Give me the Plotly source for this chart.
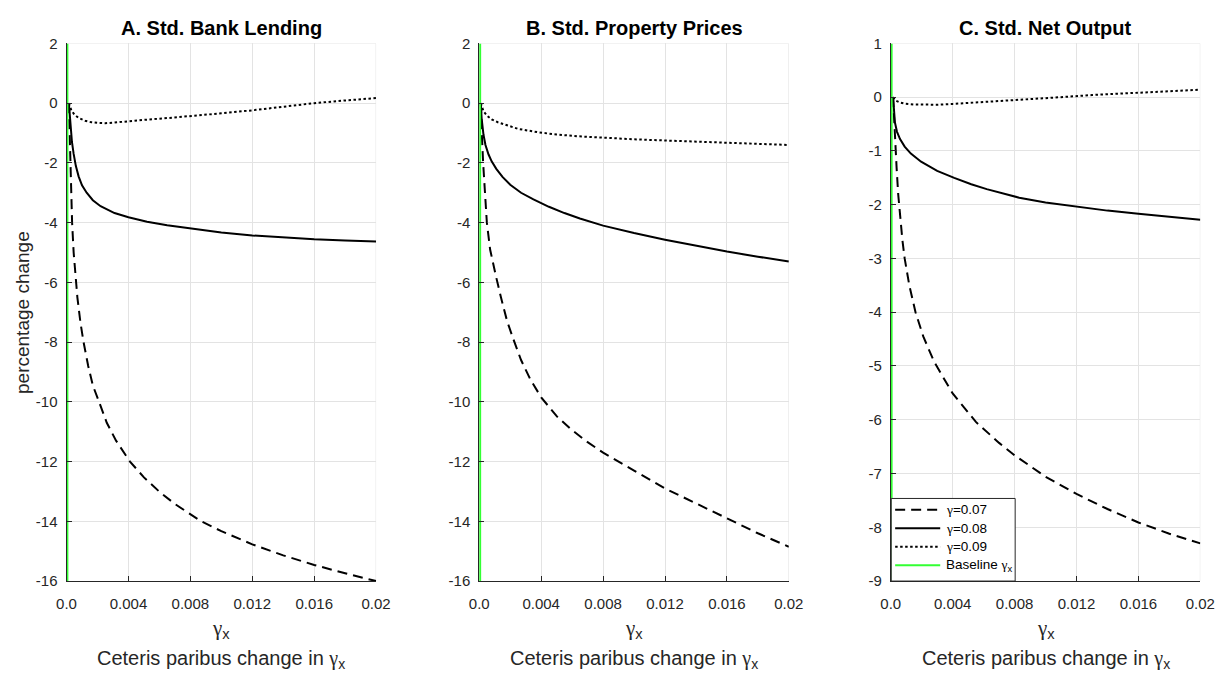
import plotly.graph_objects as go

# Baseline value of gamma_x (vertical reference line)
baseline_gx = 0.00005

# Panel A: Std. Bank Lending (percentage change)
a_x_07 = [0.00015, 0.0002, 0.00025, 0.0003, 0.00036, 0.00046, 0.00057, 0.0007, 0.0009, 0.0011, 0.0014, 0.0017,
          0.0021, 0.0026, 0.0032, 0.0041, 0.005, 0.006, 0.007, 0.0087, 0.010, 0.012, 0.014, 0.016, 0.018, 0.020]
a_y_07 = [0.0, -1.1, -2.1, -3.1, -4.0, -5.0, -5.75, -6.5, -7.35, -8.0, -8.8, -9.45,
          -10.0, -10.7, -11.3, -12.0, -12.53, -13.01, -13.42, -14.0, -14.33, -14.77, -15.14, -15.46, -15.74, -16.0]
a_x_08 = [0.00015, 0.00025, 0.00035, 0.00046, 0.0006, 0.00078, 0.001, 0.0013, 0.0017, 0.0022, 0.0031,
          0.004, 0.0052, 0.0065, 0.008, 0.010, 0.012, 0.014, 0.016, 0.018, 0.020]
a_y_08 = [0.0, -0.8, -1.3, -1.7, -2.1, -2.45, -2.75, -3.0, -3.25, -3.45, -3.68,
          -3.82, -3.97, -4.09, -4.2, -4.33, -4.43, -4.5, -4.56, -4.6, -4.63]
a_x_09 = [0.00015, 0.0003, 0.0005, 0.0008, 0.0012, 0.0016, 0.002, 0.0025, 0.0031, 0.004, 0.005,
          0.0065, 0.008, 0.010, 0.012, 0.014, 0.016, 0.018, 0.020]
a_y_09 = [0.0, -0.22, -0.38, -0.5, -0.59, -0.64, -0.66, -0.67, -0.65, -0.6, -0.56,
          -0.5, -0.44, -0.34, -0.24, -0.12, 0.0, 0.09, 0.17]

# Panel B: Std. Property Prices
b_x_07 = [0.0001, 0.00013, 0.00017, 0.00025, 0.00035, 0.00049, 0.0007, 0.0009, 0.00108, 0.0014, 0.0018, 0.0022,
          0.0027, 0.0033, 0.004, 0.005, 0.006, 0.007, 0.008, 0.010, 0.012, 0.014, 0.016, 0.018, 0.020]
b_y_07 = [0.0, -0.6, -1.1, -2.0, -3.0, -4.0, -4.9, -5.4, -5.8, -6.5, -7.3, -7.9,
          -8.6, -9.25, -9.85, -10.48, -10.95, -11.35, -11.7, -12.3, -12.9, -13.4, -13.9, -14.4, -14.85]
b_x_08 = [0.0001, 0.00015, 0.00027, 0.0004, 0.0006, 0.0008, 0.0011, 0.0015, 0.002, 0.0027, 0.0035, 0.0045,
          0.0055, 0.0065, 0.008, 0.010, 0.012, 0.014, 0.016, 0.018, 0.020]
b_y_08 = [0.0, -0.5, -1.05, -1.4, -1.72, -1.95, -2.2, -2.47, -2.73, -3.0, -3.22, -3.47,
          -3.68, -3.86, -4.1, -4.35, -4.57, -4.78, -4.97, -5.14, -5.3]
b_x_09 = [0.0001, 0.00027, 0.0005, 0.0008, 0.0012, 0.00175, 0.0025, 0.00386, 0.005, 0.0064, 0.008,
          0.010, 0.012, 0.014, 0.016, 0.018, 0.020]
b_y_09 = [0.0, -0.27, -0.42, -0.54, -0.64, -0.74, -0.86, -0.98, -1.05, -1.11, -1.16,
          -1.21, -1.25, -1.29, -1.33, -1.37, -1.4]

# Panel C: Std. Net Output
c_x_07 = [0.00015, 0.00023, 0.0003, 0.00038, 0.00048, 0.00059, 0.00075, 0.0009, 0.0012, 0.0016, 0.0021,
          0.0028, 0.004, 0.0055, 0.007, 0.008, 0.010, 0.012, 0.014, 0.016, 0.018, 0.020]
c_y_07 = [0.0, -0.54, -0.95, -1.32, -1.8, -2.2, -2.65, -3.0, -3.5, -4.0, -4.45,
          -4.92, -5.51, -6.04, -6.43, -6.66, -7.06, -7.38, -7.66, -7.91, -8.12, -8.3]
c_x_08 = [0.00015, 0.0002, 0.00027, 0.0004, 0.0006, 0.0009, 0.0013, 0.00196, 0.003, 0.0041, 0.0052,
          0.0062, 0.0073, 0.0083, 0.010, 0.012, 0.014, 0.016, 0.018, 0.020]
c_y_08 = [0.0, -0.25, -0.47, -0.64, -0.78, -0.92, -1.05, -1.2, -1.37, -1.5, -1.62,
          -1.71, -1.8, -1.87, -1.96, -2.04, -2.11, -2.17, -2.23, -2.28]
c_x_09 = [0.00015, 0.0003, 0.0006, 0.0009, 0.0015, 0.0022, 0.003, 0.004, 0.0055, 0.0072, 0.009,
          0.011, 0.013, 0.015, 0.017, 0.020]
c_y_09 = [0.0, -0.06, -0.1, -0.12, -0.135, -0.14, -0.14, -0.125, -0.1, -0.065, -0.035,
          0.0, 0.04, 0.07, 0.1, 0.14]

x_ticks = [0.0, 0.004, 0.008, 0.012, 0.016, 0.02]
x_tick_text = ["0.0", "0.004", "0.008", "0.012", "0.016", "0.02"]
ab_y_ticks = [2, 0, -2, -4, -6, -8, -10, -12, -14, -16]
ab_y_tick_text = ["2", "0", "-2", "-4", "-6", "-8", "-10", "-12", "-14", "-16"]
c_y_ticks = [1, 0, -1, -2, -3, -4, -5, -6, -7, -8, -9]
c_y_tick_text = ["1", "0", "-1", "-2", "-3", "-4", "-5", "-6", "-7", "-8", "-9"]

titles = ["A. Std. Bank Lending", "B. Std. Property Prices", "C. Std. Net Output"]
gamma = "<span style='font-family:Liberation Serif'>γ</span>"
series_names = [gamma + "=0.07", gamma + "=0.08", gamma + "=0.09"]
baseline_name = "Baseline " + gamma + "<sub>x</sub>"

W, H = 1231, 681


def px(xpix):
    return xpix / W


def py(ypix):
    return 1 - ypix / H


panel_px = [(57.7, 373.7), (479.0, 795.0), (899.0, 1215.0)]
top_px, bot_px = 35.3, 586.7
y_dom = [py(bot_px), py(top_px)]

panels = [
    (a_x_07, a_y_07, a_x_08, a_y_08, a_x_09, a_y_09, [-16, 2], ab_y_ticks, ab_y_tick_text),
    (b_x_07, b_y_07, b_x_08, b_y_08, b_x_09, b_y_09, [-16, 2], ab_y_ticks, ab_y_tick_text),
    (c_x_07, c_y_07, c_x_08, c_y_08, c_x_09, c_y_09, [-9, 1], c_y_ticks, c_y_tick_text),
]

dash_styles = ["10px,6px", "solid", "2.5px,2.5px"]
green = "#33ff33"
ink = "#262626"
grid = "#e3e3e3"
sans = "Liberation Sans, Arial, sans-serif"

fig = go.Figure()
tick_font = dict(family=sans, size=15, color=ink)

for i, (x7, y7, x8, y8, x9, y9, yr, yt, ytt) in enumerate(panels):
    xa = "x" if i == 0 else f"x{i+1}"
    ya = "y" if i == 0 else f"y{i+1}"
    suffix = "" if i == 0 else str(i + 1)
    for j, (xs, ys) in enumerate([(x7, y7), (x8, y8), (x9, y9)]):
        fig.add_trace(go.Scatter(
            x=xs, y=ys, mode="lines", xaxis=xa, yaxis=ya,
            line=dict(color="black", width=2, dash=dash_styles[j]),
            name=series_names[j], showlegend=False,
        ))
    fig.add_trace(go.Scatter(
        x=[baseline_gx, baseline_gx], y=yr, mode="lines", xaxis=xa, yaxis=ya,
        line=dict(color=green, width=2.2), name=baseline_name, showlegend=False,
    ))

    x0, x1 = panel_px[i]
    fig.layout["xaxis" + suffix] = dict(
        domain=[px(x0), px(x1)], range=[0, 0.02], anchor=ya,
        tickvals=x_ticks, ticktext=x_tick_text, tickfont=tick_font,
        showgrid=True, gridcolor=grid, gridwidth=1,
        showline=True, linecolor=ink, linewidth=1,
        ticks="inside", ticklen=5, tickcolor=ink,
        zeroline=False, ticklabelstandoff=9,
    )
    fig.layout["yaxis" + suffix] = dict(
        domain=y_dom, range=yr, anchor=xa,
        tickvals=yt, ticktext=ytt, tickfont=tick_font,
        showgrid=True, gridcolor=grid, gridwidth=1,
        showline=True, linecolor=ink, linewidth=1,
        ticks="inside", ticklen=5, tickcolor=ink,
        zeroline=False, ticklabelstandoff=5,
    )
    cx = px((x0 + x1) / 2)
    fig.add_annotation(x=cx, y=py(19.5), xref="paper", yref="paper", xanchor="center", yanchor="middle",
                       text="<b>" + titles[i] + "</b>", showarrow=False,
                       font=dict(family=sans, size=20, color="black"))
    fig.add_annotation(x=cx, y=py(636), xref="paper", yref="paper", xanchor="center", yanchor="middle",
                       text=gamma + "<sub>x</sub>", showarrow=False,
                       font=dict(family=sans, size=21, color=ink))
    fig.add_annotation(x=cx, y=py(667), xref="paper", yref="paper", xanchor="center", yanchor="middle",
                       text="Ceteris paribus change in " + gamma + "<sub>x</sub>",
                       showarrow=False, font=dict(family=sans, size=20, color=ink))
    # grid lines along the top and right edges
    fig.add_shape(type="line", xref=xa, yref=ya, x0=0, x1=0.02, y0=yr[1], y1=yr[1],
                  line=dict(color=grid, width=1), layer="below")
    fig.add_shape(type="line", xref=xa, yref=ya, x0=0.02, x1=0.02, y0=yr[0], y1=yr[1],
                  line=dict(color=grid, width=1), layer="below")

fig.add_annotation(x=px(13), y=py(311), xref="paper", yref="paper", xanchor="center", yanchor="middle",
                   text="percentage change", showarrow=False, textangle=-90,
                   font=dict(family=sans, size=19, color=ink))

# legend box in panel C
leg_left, leg_right, leg_top, leg_bot = 899.5, 1026.0, 502.0, 586.7
fig.add_shape(type="rect", xref="paper", yref="paper",
              x0=px(leg_left), x1=px(leg_right), y0=py(leg_bot), y1=py(leg_top),
              line=dict(color=ink, width=1), fillcolor="white", layer="above")
leg_rows = [513.5, 532.5, 551.5, 570.5]
leg_labels = series_names + [baseline_name]
for k, yrow in enumerate(leg_rows):
    col = green if k == 3 else "black"
    fig.add_shape(type="line", xref="paper", yref="paper",
                  x0=px(903.5), x1=px(949.5), y0=py(yrow), y1=py(yrow),
                  line=dict(color=col, width=2, dash=dash_styles[k] if k < 3 else "solid"), layer="above")
    fig.add_annotation(x=px(953), y=py(yrow), xref="paper", yref="paper", xanchor="left", yanchor="middle",
                       text=leg_labels[k], showarrow=False,
                       font=dict(family=sans, size=13.5, color="black"))

fig.update_layout(
    width=W, height=H, margin=dict(l=0, r=0, t=0, b=0),
    paper_bgcolor="white", plot_bgcolor="white", showlegend=False,
)

# page body without its default margin so the figure fills the window
fig.write_html("out.html", post_script="document.body.style.margin = '0px';")
